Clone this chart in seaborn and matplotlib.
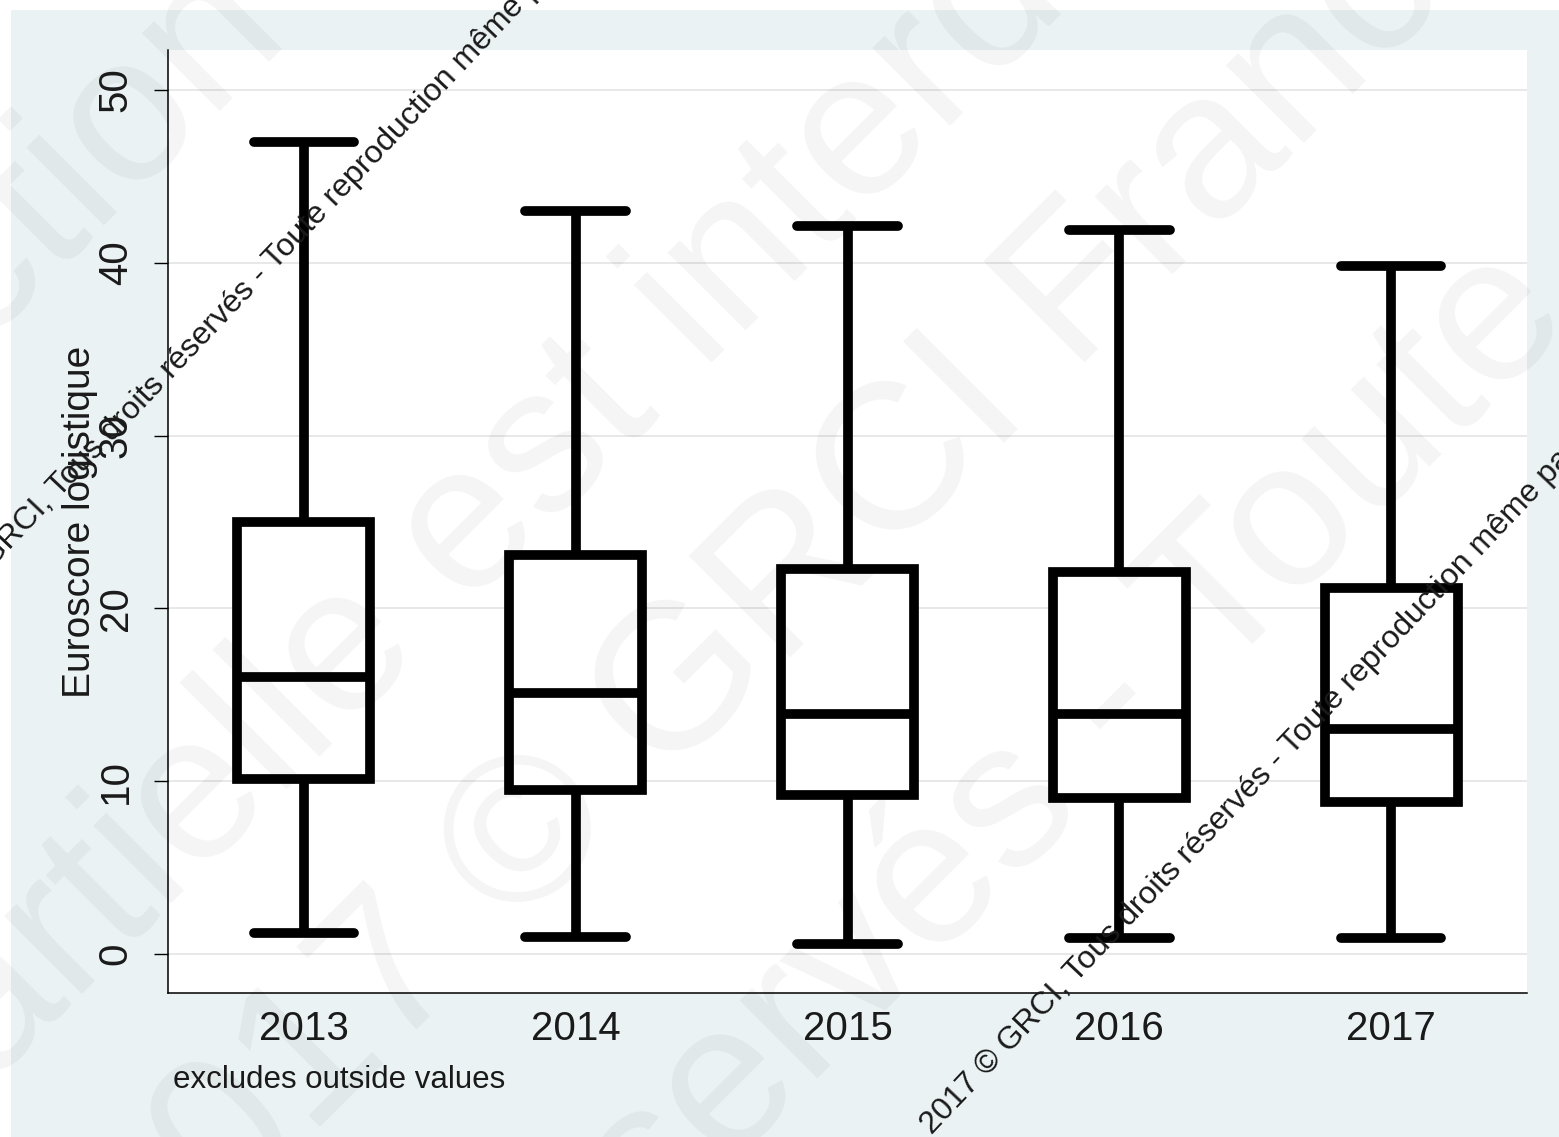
import matplotlib
matplotlib.use("Agg")
import matplotlib.pyplot as plt
from matplotlib.patches import Rectangle
import pandas as pd
import seaborn as sns

# Euroscore logistique par année (boîtes sans valeurs extrêmes)
years = ["2013", "2014", "2015", "2016", "2017"]
whisker_low = [1.2, 1.0, 0.6, 0.9, 0.9]
q1 = [10.1, 9.5, 9.2, 9.0, 8.8]
median = [16.0, 15.1, 13.9, 13.9, 13.0]
q3 = [25.0, 23.1, 22.3, 22.1, 21.2]
whisker_high = [47.0, 43.0, 42.1, 41.9, 39.8]
y_ticks = [0, 10, 20, 30, 40, 50]

# five summary points per year: quartiles fall exactly on points 2-4,
# and whis=(0, 100) puts the whiskers on the extremes
rows = []
for i, yr in enumerate(years):
    for v in (whisker_low[i], q1[i], median[i], q3[i], whisker_high[i]):
        rows.append({"annee": yr, "euroscore": v})
df = pd.DataFrame(rows)

sns.set_theme(style="white")
plt.rcParams["font.family"] = ["Liberation Sans", "DejaVu Sans"]

W, H = 1559, 1137
fig = plt.figure(figsize=(W / 100, H / 100), dpi=100, facecolor="white")


def fx(px):
    return px / W


def fy(py):
    return 1 - py / H


# graph region (light bluish gray)
fig.add_artist(Rectangle((fx(11), 0), 1 - fx(11), fy(10), transform=fig.transFigure,
                         facecolor="#eaf2f3", edgecolor="none", zorder=-10))

ax = fig.add_axes([fx(168), fy(993), fx(1527) - fx(168), fy(50) - fy(993)])
ax.set_facecolor("white")

sns.boxplot(data=df, x="annee", y="euroscore", order=years, color="white",
            linecolor="black", linewidth=7, width=0.49, whis=(0, 100),
            showfliers=False, capwidths=0.37, ax=ax)

ax.set_xlim(-0.5, 4.5)
ax.set_ylim(-2.26, 52.31)
ax.set_yticks(y_ticks)
ax.set_yticklabels([str(t) for t in y_ticks])
ax.set_xlabel("")
ax.set_ylabel("")

ax.yaxis.grid(True, color="#e6e6e6", linewidth=1.3)
ax.xaxis.grid(False)
ax.set_axisbelow(True)

for side in ("top", "right"):
    ax.spines[side].set_visible(False)
for side in ("left", "bottom"):
    ax.spines[side].set_color("black")
    ax.spines[side].set_linewidth(1.1)

ax.tick_params(axis="y", which="both", left=True, length=10, width=1.0,
               color="black", pad=14, labelsize=29, labelcolor="#1a1a1a",
               labelrotation=90)
for lab in ax.get_yticklabels():
    lab.set_va("center")
ax.tick_params(axis="x", length=0, pad=12, labelsize=29, labelcolor="#1a1a1a")

fig.text(fx(80), fy(522), "Euroscore logistique", rotation=90, ha="center",
         va="center", fontsize=28, color="#1a1a1a")
fig.text(fx(173), fy(1088), "excludes outside values", ha="left", va="baseline",
         fontsize=22.5, color="#1a1a1a")

# faint large copyright overlay
big_lines = [
    ("reproduction", 250, -10, "right"),
    ("partielle est interdite", 530, 470, "center"),
    ("2017 © GRCI France", 800, 570, "center"),
    ("réservés - Toute", 1010, 810, "center"),
]
for txt, px, py, ha in big_lines:
    fig.text(fx(px), fy(py), txt, rotation=45, rotation_mode="anchor", ha=ha,
             va="center", fontsize=150, color="black", alpha=0.045, zorder=15)

# small diagonal copyright notice
notice = "2017 © GRCI, Tous droits réservés - Toute reproduction même partielle est interdite"
for px, py in [(-85, 650), (932, 1135)]:
    fig.text(fx(px), fy(py), notice, rotation=46.5, rotation_mode="anchor",
             ha="left", va="baseline", fontsize=23, color="#1a1a1a", zorder=20)

fig.savefig("out.png", dpi=100)
